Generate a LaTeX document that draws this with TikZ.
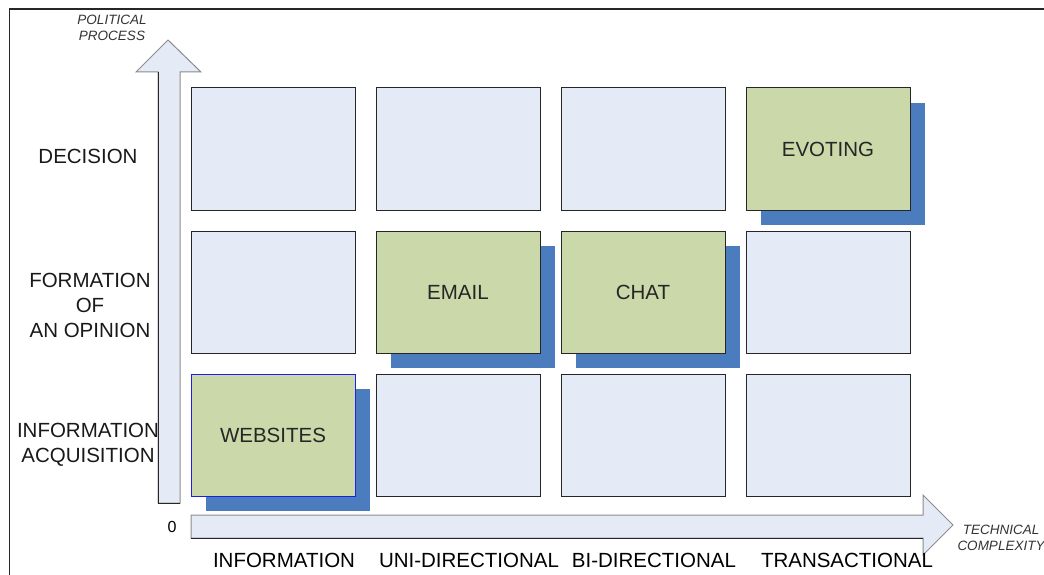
\documentclass[tikz,border=0pt]{standalone}
\usepackage{fontspec}
\setmainfont{Liberation Sans}
\usetikzlibrary{positioning,shadows}
\definecolor{cellfill}{RGB}{228,234,246}
\definecolor{cellgreen}{RGB}{202,216,170}
\definecolor{shadowblue}{RGB}{74,124,190}
\definecolor{edgeblue}{RGB}{30,30,235}

\begin{document}
\begin{tikzpicture}[x=1pt,y=-1pt,node distance=20pt,font=\fontsize{20.5}{25}\selectfont]

\tikzstyle{cell}=[rectangle,draw=black!85,line width=1pt,fill=cellfill,minimum width=164pt,minimum height=122pt,inner sep=0pt,text=black!85]
\tikzstyle{used}=[cell,fill=cellgreen,drop shadow={shadow xshift=15pt,shadow yshift=-15pt,fill=shadowblue,opacity=1}]
\tikzstyle{axislabel}=[font=\fontsize{13.5}{16}\selectfont\itshape,text=black!80,align=center]
\tikzstyle{rowlabel}=[align=center,text=black!90]
\tikzstyle{axisarrow}=[draw=black!45,line width=1pt,fill=cellfill,line join=miter]

\useasboundingbox (0,0) rectangle (1044,575);
\clip (0,0) rectangle (1044,575);
\draw[line width=1.2pt,black!85] (9.5,9) rectangle (1060,600);

% axes
\draw[axisarrow] (158,503) -- (158,72) -- (136,72) -- (168,40) -- (201,72) -- (180,72) -- (180,503) -- cycle;
\draw[line width=1pt,black!85] (158,503) -- (158,72) (158,503) -- (180,503);
\draw[axisarrow] (191,515) -- (923,515) -- (923,495) -- (953,525) -- (923,555) -- (923,538) -- (191,538) -- cycle;
\draw[line width=1pt,black!85] (191,538) -- (923,538);

% grid of cells
\node[cell](A1) at (273,149){};
\node[cell](B1)[right=of A1]{};
\node[cell](C1)[right=of B1]{};
\node[used](D1)[right=of C1]{EVOTING};

\node[cell](A2)[below=of A1]{};
\node[used](B2)[below=of B1]{EMAIL};
\node[used](C2)[below=of C1]{CHAT};
\node[cell](D2)[below=of D1]{};

\node[used,draw=edgeblue](A3)[below=of A2]{WEBSITES};
\node[cell](B3)[below=of B2]{};
\node[cell](C3)[below=of C2]{};
\node[cell](D3)[below=of D2]{};

% labels
\node[rowlabel](decision) at (88,156){DECISION};
\node[rowlabel](opinion) at (90,305){FORMATION\\OF\\AN OPINION};
\node[rowlabel](acquisition) at (88,444.5){INFORMATION\\ACQUISITION};

\node(colA) at (284,560){INFORMATION};
\node(colB) at (469,560){UNI-DIRECTIONAL};
\node(colC) at (654,560){BI-DIRECTIONAL};
\node(colD) at (847,560){TRANSACTIONAL};

\node[font=\fontsize{16}{18}\selectfont](origin) at (172,527){0};
\node[axislabel](political) at (112,28){POLITICAL\\PROCESS};
\node[axislabel](technical) at (1001,537.5){TECHNICAL\\COMPLEXITY};

\end{tikzpicture}
\end{document}
